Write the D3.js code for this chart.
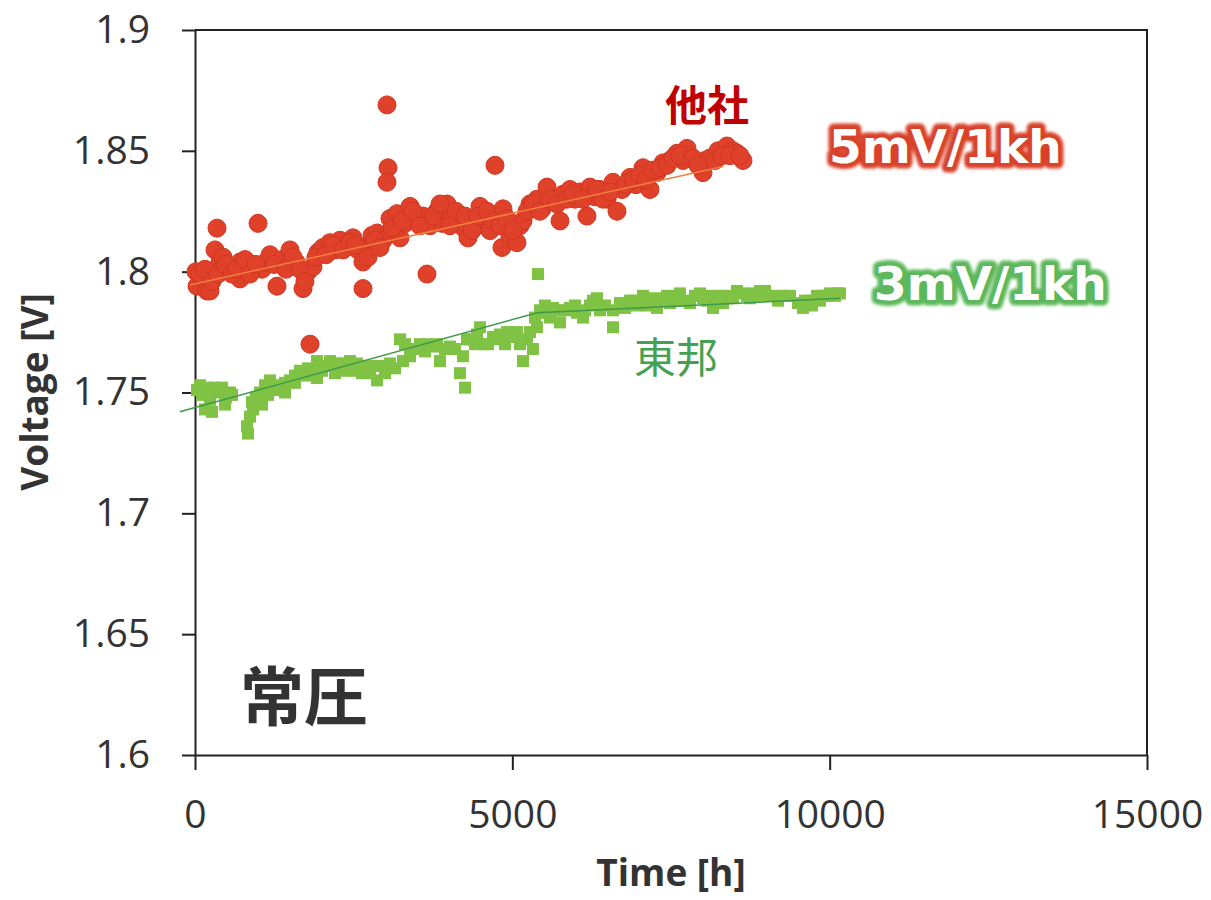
<!DOCTYPE html>
<html>
<head>
<meta charset="utf-8">
<script src="https://cdn.jsdelivr.net/npm/d3@7"></script>
<style>
  body { margin: 0; background: #fff; }
  svg { display: block; }
</style>
</head>
<body>
<svg id="chart" width="1211" height="900"></svg>
<script>
// 他社 (red circles)
const otherTime = [16, 32, 126, 189, 236, 315, 347, 394, 441, 520, 614, 709, 709, 804, 898, 993,
  1056, 1119, 1182, 1292, 1371, 1497, 1591, 1702, 1780, 1812, 1859, 1938, 2017, 2127, 2206, 2285,
  2379, 2489, 2568, 2647, 2647, 2726, 2789, 2868, 2962, 3025, 3041, 3025, 3072, 3151, 3183, 3230,
  3309, 3388, 3482, 3592, 3655, 3703, 3813, 3892, 3970, 4049, 4175, 4238, 4301, 4396, 4490, 4569,
  4648, 4727, 4758, 4853, 4837, 4963, 5073, 5121, 5168, 5278, 5388, 5467, 5546, 5641, 5751, 5798,
  5909, 5987, 6066, 6176, 6224, 6302, 6381, 6492, 6586, 6649, 6728, 6854, 6948, 7059, 7169, 7279,
  7374, 7484, 7594, 7689, 7752, 8004, 8036, 8114, 8240, 8382, 8477, 8540, 8634,
  79, 158, 268, 362, 473, 583, 662, 788, 867, 961, 1245, 1434, 1544, 1654, 1733, 1906,
  2064, 2174, 2332, 2442, 2521, 2726, 2836, 2915, 3104, 3261, 3435, 3545, 3750, 3860, 4018, 4112,
  4254, 4364, 4459, 4601, 4695, 4806, 4916, 5010, 5231, 5325, 5435, 5593, 5704, 5861, 5956, 6113,
  6334, 6428, 6539, 6791, 6901, 7011, 7106, 7216, 7327, 7437, 7531, 7642, 7846, 7925, 8193, 8303,
  8430, 8587];
const otherVolt = [1.800, 1.794, 1.797, 1.792, 1.792, 1.809, 1.818, 1.804, 1.806, 1.801, 1.802, 1.804, 1.797, 1.801, 1.803, 1.820,
  1.801, 1.804, 1.807, 1.794, 1.805, 1.809, 1.804, 1.793, 1.800, 1.770, 1.802, 1.808, 1.810, 1.812, 1.809, 1.813,
  1.811, 1.814, 1.809, 1.804, 1.793, 1.811, 1.815, 1.816, 1.813, 1.869, 1.843, 1.837, 1.822, 1.817, 1.824, 1.814,
  1.820, 1.827, 1.822, 1.823, 1.799, 1.819, 1.825, 1.820, 1.828, 1.823, 1.823, 1.818, 1.814, 1.821, 1.827, 1.821,
  1.817, 1.844, 1.823, 1.826, 1.810, 1.815, 1.812, 1.819, 1.821, 1.828, 1.830, 1.826, 1.835, 1.830, 1.821, 1.832,
  1.834, 1.830, 1.833, 1.823, 1.835, 1.831, 1.834, 1.830, 1.837, 1.825, 1.834, 1.839, 1.836, 1.843, 1.834, 1.841,
  1.845, 1.846, 1.849, 1.846, 1.851, 1.841, 1.846, 1.847, 1.850, 1.852, 1.850, 1.849, 1.846,
  1.799, 1.801, 1.796, 1.799, 1.803, 1.799, 1.801, 1.805, 1.799, 1.803, 1.803, 1.801, 1.806, 1.801, 1.796, 1.806,
  1.807, 1.811, 1.809, 1.812, 1.811, 1.806, 1.813, 1.810, 1.818, 1.821, 1.825, 1.819, 1.823, 1.828, 1.819, 1.825,
  1.823, 1.817, 1.823, 1.825, 1.821, 1.819, 1.822, 1.817, 1.825, 1.828, 1.825, 1.830, 1.828, 1.830, 1.832, 1.830,
  1.834, 1.830, 1.833, 1.836, 1.838, 1.840, 1.838, 1.842, 1.843, 1.844, 1.847, 1.848, 1.847, 1.844, 1.846, 1.848,
  1.848, 1.848];

// 東邦 (green squares)
const tohoTime = [32, 79, 189, 236, 268, 347, 425, 488, 551, 835, 867, 898, 961, 1024, 1103, 1182,
  1260, 1339, 1418, 1497, 1576, 1654, 1780, 1922, 1922, 2048, 2127, 2237, 2332, 2442, 2552, 2678,
  2868, 2868, 2962, 3072, 3230, 3277, 3388, 3466, 3545, 3655, 3750, 3860, 3939, 4018, 4175, 4254,
  4223, 4333, 4412, 4490, 4538, 4695, 4806, 4916, 4995, 5073, 5168, 5231, 5325, 5404, 5388, 5435,
  5546, 5641, 5751, 5830, 5909, 6018, 6113, 6224, 6334, 6381, 6586, 6586, 6696, 6854, 6964, 7059,
  7169, 7279, 7358, 7437, 7531, 7642, 7799, 7878, 7957, 8067, 8162, 8272, 8398, 8540, 8697, 8792,
  8902, 9012, 9107, 9265, 9580, 9611, 9690, 9800, 9895, 10005, 10115,
  1056, 1150, 1260, 1418, 1576, 1733, 1843, 2001, 2206, 2363, 2521, 2631, 2757, 2994, 3151,
  3309, 3419, 3624, 3813, 4096, 4286, 4443, 4616, 4758, 4884, 5010, 5121, 5278, 5357,
  5514, 5593, 5719, 5987, 6145, 6271, 6460, 6775, 6901, 7122, 7248, 7484, 7594, 7720, 8004, 8114,
  8319, 8477, 8634, 8745, 8855, 8981, 9186, 9375, 9501, 9721, 9848, 9958, 10084, 10162,
  110, 315, 583, 473, 158, 914, 819];
const tohoVolt = [1.751, 1.753, 1.752, 1.747, 1.742, 1.750, 1.752, 1.748, 1.750, 1.733, 1.740, 1.746, 1.748, 1.750, 1.753, 1.755,
  1.751, 1.752, 1.754, 1.755, 1.757, 1.759, 1.760, 1.763, 1.756, 1.761, 1.763, 1.762, 1.762, 1.763, 1.762, 1.761,
  1.761, 1.755, 1.761, 1.762, 1.772, 1.763, 1.765, 1.768, 1.770, 1.770, 1.769, 1.763, 1.768, 1.769, 1.758, 1.752,
  1.765, 1.772, 1.770, 1.777, 1.770, 1.773, 1.774, 1.775, 1.773, 1.775, 1.763, 1.772, 1.768, 1.799, 1.777, 1.784,
  1.783, 1.785, 1.779, 1.784, 1.785, 1.783, 1.781, 1.786, 1.789, 1.784, 1.777, 1.784, 1.787, 1.788, 1.786, 1.790,
  1.787, 1.785, 1.788, 1.790, 1.788, 1.791, 1.787, 1.790, 1.791, 1.788, 1.785, 1.790, 1.790, 1.792, 1.790, 1.791,
  1.792, 1.790, 1.790, 1.790, 1.785, 1.788, 1.788, 1.790, 1.790, 1.791, 1.791,
  1.745, 1.749, 1.753, 1.750, 1.754, 1.757, 1.758, 1.759, 1.758, 1.759, 1.759, 1.758, 1.758, 1.758, 1.760,
  1.770, 1.768, 1.767, 1.770, 1.768, 1.772, 1.774, 1.770, 1.772, 1.770, 1.773, 1.770, 1.775, 1.781,
  1.786, 1.781, 1.784, 1.786, 1.784, 1.788, 1.786, 1.785, 1.788, 1.786, 1.789, 1.787, 1.790, 1.788, 1.789, 1.790,
  1.787, 1.789, 1.791, 1.789, 1.790, 1.792, 1.788, 1.790, 1.787, 1.786, 1.788, 1.790, 1.790, 1.791,
  1.749, 1.752, 1.749, 1.745, 1.743, 1.743, 1.736];

// trend lines as drawn in the figure
const otherTrend = [[-80, 1.7945], [8320, 1.8435]];
const tohoTrend = [[-240, 1.742], [5390, 1.783], [10160, 1.789]];

const xTicks = [0, 5000, 10000, 15000];
const yTicks = [1.6, 1.65, 1.7, 1.75, 1.8, 1.85, 1.9];

const svg = d3.select("#chart");
const m = {left: 195, right: 1147, top: 30, bottom: 755};

const x = d3.scaleLinear().domain([0, 15000]).range([m.left, m.right]);
const y = d3.scaleLinear().domain([1.6, 1.9]).range([m.bottom, m.top]);

const tickFont = "'Open Sans', 'Liberation Sans', sans-serif";

// frame (top + right)
svg.append("path")
    .attr("d", `M${m.left},${m.top}H${m.right}V${m.bottom}`)
    .attr("fill", "none")
    .attr("stroke", "#222")
    .attr("stroke-width", 2);

// axes
const yAxis = svg.append("g")
    .attr("transform", `translate(${m.left},0)`)
    .call(d3.axisLeft(y).tickValues(yTicks).tickSize(13).tickSizeOuter(0).tickPadding(32)
        .tickFormat(d => String(+d.toFixed(2))));
const xAxis = svg.append("g")
    .attr("transform", `translate(0,${m.bottom})`)
    .call(d3.axisBottom(x).tickValues(xTicks).tickSize(15).tickSizeOuter(0).tickPadding(30)
        .tickFormat(d3.format("d")));

[yAxis, xAxis].forEach(g => {
    g.select(".domain").attr("stroke", "#222").attr("stroke-width", 2);
    g.selectAll(".tick line").attr("stroke", "#222").attr("stroke-width", 2);
    g.selectAll(".tick text")
        .attr("fill", "#333")
        .style("font-family", tickFont)
        .style("font-size", "39px");
});

// axis titles
svg.append("text")
    .attr("transform", `translate(48,392) rotate(-90)`)
    .attr("text-anchor", "middle")
    .style("font-family", tickFont)
    .style("font-weight", 700)
    .style("font-size", "37px")
    .attr("fill", "#333")
    .text("Voltage [V]");

svg.append("text")
    .attr("x", 671)
    .attr("y", 886)
    .attr("text-anchor", "middle")
    .style("font-family", tickFont)
    .style("font-weight", 700)
    .style("font-size", "37px")
    .attr("fill", "#333")
    .text("Time [h]");

// points
const tohoData = tohoTime.map((t, i) => [t, tohoVolt[i]]);
const otherData = otherTime.map((t, i) => [t, otherVolt[i]]);
const sq = 12;

svg.append("g").selectAll("rect")
    .data(tohoData)
    .join("rect")
    .attr("x", d => x(d[0]) - sq / 2)
    .attr("y", d => y(d[1]) - sq / 2)
    .attr("width", sq)
    .attr("height", sq)
    .attr("fill", "#7fc244");

svg.append("g").selectAll("circle")
    .data(otherData)
    .join("circle")
    .attr("cx", d => x(d[0]))
    .attr("cy", d => y(d[1]))
    .attr("r", 9)
    .attr("fill", "#e0412b")
    .attr("stroke", "#d0361f")
    .attr("stroke-width", 1);

// trend lines
const line = d3.line().x(d => x(d[0])).y(d => y(d[1]));
svg.append("path").datum(tohoTrend)
    .attr("d", line)
    .attr("fill", "none")
    .attr("stroke", "#3e9a48")
    .attr("stroke-width", 1.5);
svg.append("path").datum(otherTrend)
    .attr("d", line)
    .attr("fill", "none")
    .attr("stroke", "#f08040")
    .attr("stroke-width", 1.5);

// annotations
const cjk = "'Noto Sans CJK JP', sans-serif";
svg.append("text")
    .attr("x", 240).attr("y", 720)
    .style("font-family", cjk).style("font-weight", 700).style("font-size", "64px")
    .attr("fill", "#333")
    .text("常圧");

svg.append("text")
    .attr("x", 665).attr("y", 121)
    .style("font-family", cjk).style("font-weight", 700).style("font-size", "42px")
    .attr("fill", "#c00000")
    .text("他社");

svg.append("text")
    .attr("x", 634).attr("y", 373)
    .style("font-family", cjk).style("font-weight", 400).style("font-size", "42px")
    .attr("fill", "#45a050")
    .text("東邦");

// glowing rate labels
const defs = svg.append("defs");
const glow = defs.append("filter").attr("id", "glow")
    .attr("x", "-10%").attr("y", "-30%").attr("width", "120%").attr("height", "160%");
glow.append("feGaussianBlur").attr("stdDeviation", 1.5);

const rateLabel = (txt, tx, ty, col) => {
    const g = svg.append("g");
    g.append("text")
        .attr("x", tx).attr("y", ty)
        .style("font-family", "'DejaVu Sans', sans-serif")
        .style("font-weight", 700).style("font-size", "47px")
        .attr("fill", col).attr("stroke", col).attr("stroke-width", 11)
        .attr("stroke-linejoin", "round")
        .attr("filter", "url(#glow)")
        .text(txt);
    g.append("text")
        .attr("x", tx).attr("y", ty)
        .style("font-family", "'DejaVu Sans', sans-serif")
        .style("font-weight", 700).style("font-size", "47px")
        .attr("fill", "#fff")
        .text(txt);
};
rateLabel("5mV/1kh", 829, 163, "#d9432c");
rateLabel("3mV/1kh", 874, 300, "#5cb85a");
</script>
</body>
</html>
